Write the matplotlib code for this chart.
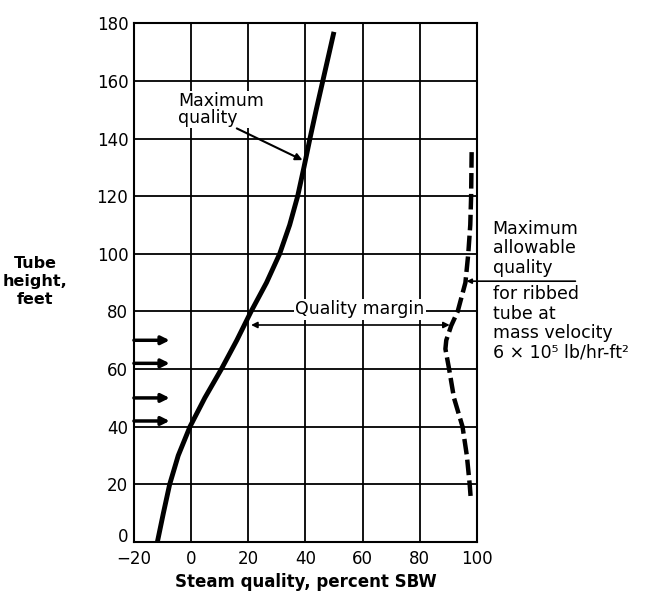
import matplotlib.pyplot as plt
import matplotlib.transforms as mtransforms

plt.rcParams['font.family'] = ['DejaVu Sans']

# maximum quality curve (solid)
solid_y = [0, 10, 20, 30, 40, 50, 60, 70, 80, 90, 100, 110, 120, 130, 140, 150, 160, 170, 177]
solid_x = [-11.8, -9.7, -7.5, -4.5, -0.4, 4.8, 10.6, 16, 21, 26.4, 31, 34.5, 37.3, 39.5, 41.6, 43.8, 46.1, 48.4, 50]

# maximum allowable quality (dashed)
dash_y = [16, 20, 30, 40, 50, 60, 67, 70, 75, 80, 90, 100, 110, 120, 137]
dash_x = [97.8, 97.5, 96.5, 95, 92, 90.3, 89, 89.3, 91, 93.3, 96, 97, 97.7, 98, 98.2]

# heat input arrows at left
arrow_y = [70, 62, 50, 42]

xticks = [-20, 0, 20, 40, 60, 80, 100]
yticks = [0, 20, 40, 60, 80, 100, 120, 140, 160, 180]

fig = plt.figure(figsize=(6.47, 5.95), dpi=100)
ax = fig.add_axes([0.207, 0.089, 0.53, 0.872])

ax.set_xlim(-20, 100)
ax.set_ylim(0, 180)
ax.set_xticks(xticks)
ax.set_yticks(yticks)
ax.set_xticklabels(["\u221220" if t == -20 else str(t) for t in xticks])
ax.tick_params(length=0, labelsize=12)
ax.tick_params(axis="x", pad=6)
ax.tick_params(axis="y", pad=4)
ax.grid(True, color="black", lw=1.3)
ax.set_axisbelow(True)
for s in ax.spines.values():
    s.set_linewidth(1.5)

# lift the "0" label a bit so it clears "-20"
zero_lab = ax.get_yticklabels()[0]
zero_lab.set_transform(zero_lab.get_transform()
                       + mtransforms.ScaledTranslation(0, 5 / 72, fig.dpi_scale_trans))

ax.plot(solid_x, solid_y, color="black", lw=3.5, solid_capstyle="butt", zorder=3)
ax.plot(dash_x, dash_y, color="black", lw=3.2, dashes=(3.5, 1.2), zorder=3)

for yy in arrow_y:
    ax.annotate("", xy=(-7.5, yy), xytext=(-20, yy),
                arrowprops=dict(arrowstyle="-|>", lw=2.5, color="black", mutation_scale=12,
                                shrinkA=0, shrinkB=0), zorder=4)

# quality margin
ax.annotate("", xy=(90.5, 75.3), xytext=(21, 75.3),
            arrowprops=dict(arrowstyle="<|-|>", lw=1.2, color="black", mutation_scale=9,
                            shrinkA=0, shrinkB=0), zorder=4)
ax.text(59, 80.8, "Quality margin", ha="center", va="center", fontsize=12.5,
        bbox=dict(facecolor="white", edgecolor="none", pad=1), zorder=2.5)

# maximum quality label
ax.text(-4.6, 150, "Maximum\nquality", ha="left", va="center", fontsize=12.5,
        linespacing=0.95,
        bbox=dict(facecolor="white", edgecolor="none", pad=0.5), zorder=2.5)
ax.annotate("", xy=(39, 132.5), xytext=(16, 143.5),
            arrowprops=dict(arrowstyle="-|>", lw=1.5, color="black", mutation_scale=10,
                            shrinkA=0, shrinkB=0), zorder=4)

# right annotation
ax.annotate("", xy=(96.4, 90.5), xytext=(134.5, 90.5),
            arrowprops=dict(arrowstyle="-|>", lw=1.2, color="black", mutation_scale=7,
                            shrinkA=0, shrinkB=0), annotation_clip=False, zorder=4)
ax.text(105.5, 92, "Maximum\nallowable\nquality", ha="left", va="bottom",
        fontsize=12.5, linespacing=1.12, clip_on=False)
ax.text(105.5, 89.2, "for ribbed\ntube at\nmass velocity\n6 \u00d7 10\u2075 lb/hr-ft\u00b2",
        ha="left", va="top", fontsize=12.5, linespacing=1.12, clip_on=False)

ax.set_xlabel("Steam quality, percent SBW", fontsize=12, fontweight="bold", labelpad=3)
fig.text(0.054, 0.527, "Tube\nheight,\nfeet", ha="center", va="center",
         fontsize=11.5, fontweight="bold", linespacing=1.25)

fig.savefig("out.png", dpi=100)
